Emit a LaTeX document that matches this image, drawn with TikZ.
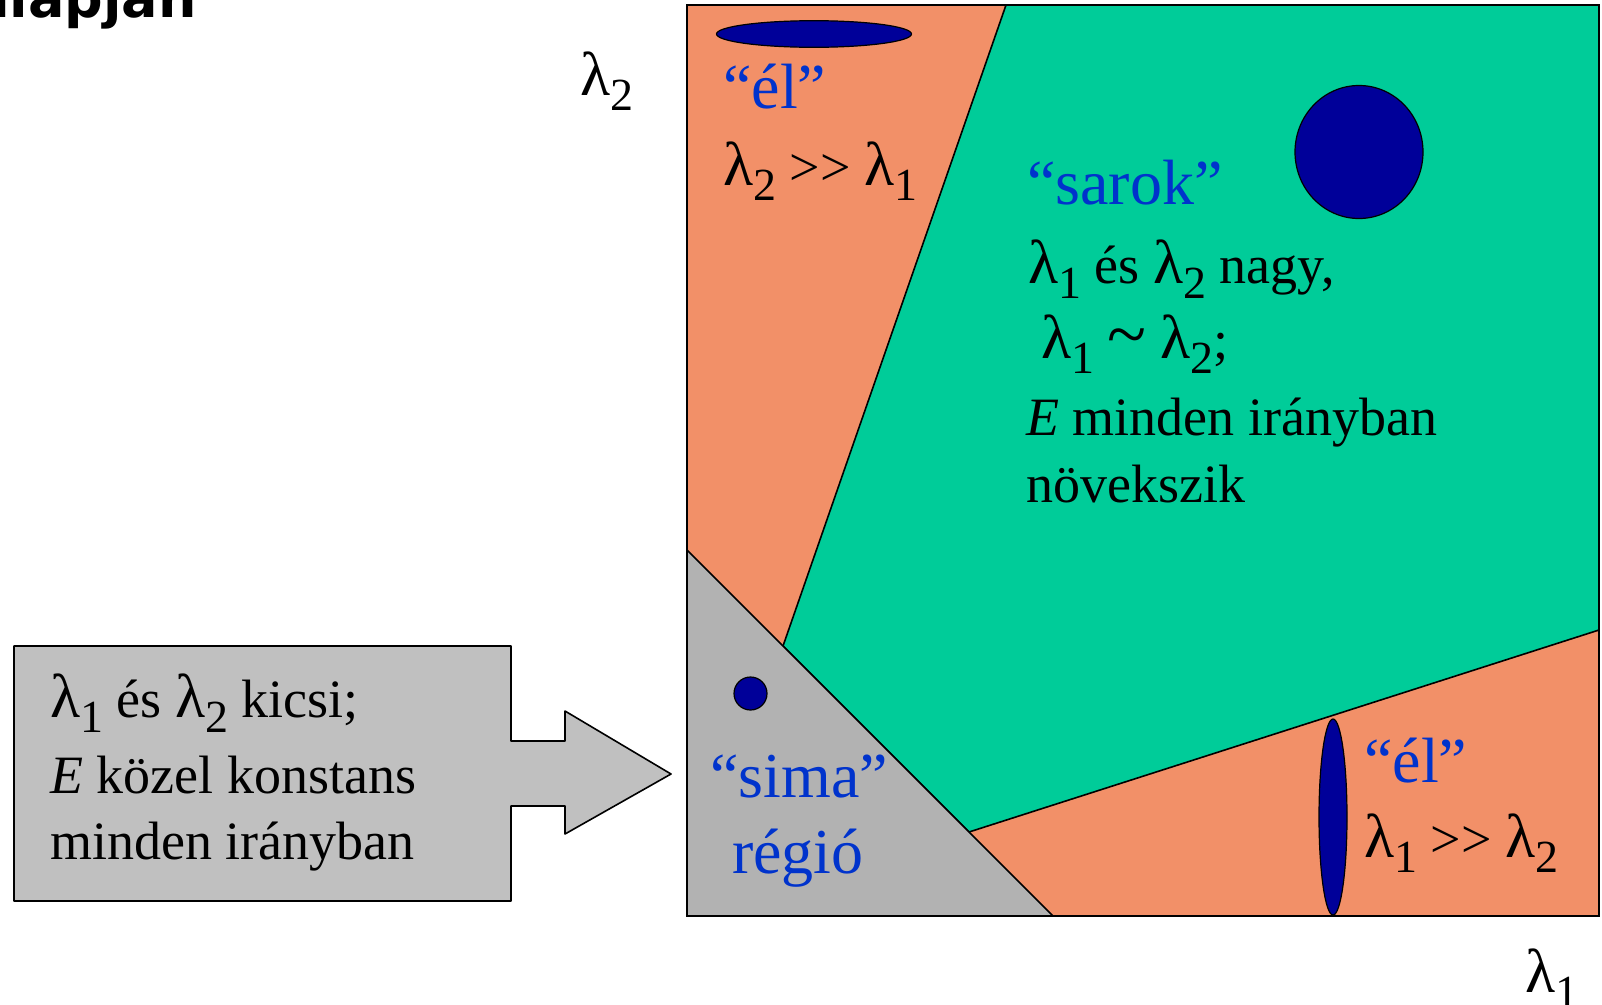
\documentclass[tikz,border=0pt]{standalone}
\usepackage{fontspec}
\setmainfont{Liberation Serif}
\newfontfamily\titlefont{DejaVu Sans}
\definecolor{edgeorange}{HTML}{F29068}
\definecolor{cornergreen}{HTML}{00CC99}
\definecolor{flatgray}{HTML}{B2B2B2}
\definecolor{boxgray}{HTML}{C0C0C0}
\definecolor{blobblue}{HTML}{000099}
\definecolor{labelblue}{HTML}{0033CC}
\newcommand{\lsub}[1]{{\fontsize{62}{62}\selectfont λ}\raisebox{-15pt}{\fontsize{46}{46}\selectfont #1}}
\begin{document}
\begin{tikzpicture}[x=1pt,y=-1pt,
  txt/.style={anchor=base west, inner sep=0pt, font=\fontsize{54}{60}\selectfont},
  bluetxt/.style={txt, text=labelblue, font=\fontsize{64}{70}\selectfont},
  blob/.style={fill=blobblue, draw=black, line width=1.2pt},
  region/.style={draw=black, line width=1.6pt, line join=round}]
\useasboundingbox (0,0) rectangle (1602,1004);
\fill[white] (0,0) rectangle (1602,1004);
% frame corners and region vertices
\coordinate (TL) at (687,5);
\coordinate (TR) at (1599,5);
\coordinate (BR) at (1599,916);
\coordinate (BL) at (687,916);
\coordinate (G1) at (1006,5);
\coordinate (G2) at (1599,630);
\coordinate (G3) at (969,832);
\coordinate (G4) at (783,646);
\coordinate (S1) at (687,550);
\coordinate (S2) at (1053,916);
% regions
\fill[edgeorange] (TL) rectangle (BR);
\path[region, fill=cornergreen] (G1) -- (TR) -- (G2) -- (G3) -- (G4) -- cycle;
\path[region, fill=flatgray] (S1) -- (S2) -- (BL) -- cycle;
\draw[line width=2pt] (TL) rectangle (BR);
% blobs
\draw[blob] (814,34) ellipse [x radius=97.5, y radius=13.3];
\draw[blob] (1359,152) ellipse [x radius=64, y radius=66.5];
\draw[blob] (750.5,693.5) circle [radius=16.5];
\draw[blob] (1333,817) ellipse [x radius=14, y radius=98];
% callout arrow box
\path[region, fill=boxgray] (14,646) -- (511,646) -- (511,741) -- (565,741) -- (565,711)
  -- (671,774) -- (565,834) -- (565,806) -- (511,806) -- (511,901) -- (14,901) -- cycle;
% title fragment
\node[anchor=base east, inner sep=0pt, font=\titlefont\bfseries\fontsize{54}{60}\selectfont] (title) at (197,17) {alapján};
% axis labels
\node[txt] (ax2) at (580,95) {\lsub{2}};
\node[txt] (ax1) at (1525,992) {\lsub{1}};
% top edge region
\node[bluetxt] (el1) at (723,108) {“él”};
\node[txt] (el1b) at (723,185) {\lsub{2} >\kern0pt> \lsub{1}};
% corner region
\node[bluetxt] (sarok) at (1027,204) {“sarok”};
\node[txt] (sarok1) at (1028,283) {\lsub{1} és \lsub{2} nagy,};
\node[txt] (sarok2) at (1041,358) {\lsub{1} {\fontsize{72}{72}\selectfont\textasciitilde} \lsub{2};};
\node[txt] (sarok3) at (1026,435) {\textit{E} minden irányban};
\node[txt] (sarok4) at (1026,502) {növekszik};
% flat region
\node[bluetxt, anchor=base] (sima) at (799,797) {“sima”};
\node[bluetxt, anchor=base] (regio) at (798,873) {régió};
% right edge region
\node[bluetxt] (el2) at (1364,782) {“él”};
\node[txt] (el2b) at (1364,857) {\lsub{1} >\kern0pt> \lsub{2}};
% callout text
\node[txt] (box1) at (50,717) {\lsub{1} és \lsub{2} kicsi;};
\node[txt] (box2) at (50,793) {\textit{E} közel konstans};
\node[txt] (box3) at (50,859) {minden irányban};
\end{tikzpicture}
\end{document}
